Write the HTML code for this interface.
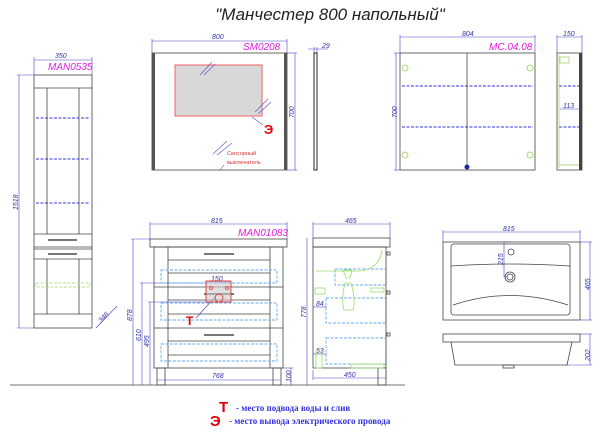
<!DOCTYPE html>
<html><head><meta charset="utf-8"><style>
html,body{margin:0;padding:0;background:#fff;}
svg{display:block;}
text{font-family:"Liberation Sans",sans-serif;}
text.serif{font-family:"Liberation Serif",serif;}
</style></head><body>
<svg width="600" height="433" viewBox="0 0 600 433" xmlns="http://www.w3.org/2000/svg">
<text x="330" y="20" font-size="17" font-style="italic" text-anchor="middle" fill="#222">"Манчестер 800 напольный"</text>

<g stroke="#4444cc" stroke-width="0.6" fill="none">
 <line x1="34" y1="60" x2="92" y2="60"/><line x1="34" y1="57" x2="34" y2="75"/><line x1="92" y1="57" x2="92" y2="75"/>
 <line x1="19" y1="75" x2="19" y2="328"/><line x1="17" y1="75" x2="34" y2="75"/><line x1="17" y1="328" x2="34" y2="328"/>
 <line x1="96" y1="328" x2="117" y2="306"/>
 <line x1="152" y1="41" x2="287" y2="41"/><line x1="152" y1="39" x2="152" y2="53"/><line x1="287" y1="39" x2="287" y2="53"/>
 <line x1="295" y1="53" x2="295" y2="170"/><line x1="287" y1="53" x2="297" y2="53"/><line x1="287" y1="170" x2="297" y2="170"/>
 <line x1="308" y1="49" x2="328" y2="49"/><line x1="314" y1="47" x2="314" y2="53"/><line x1="317" y1="47" x2="317" y2="53"/>
 <line x1="400" y1="37" x2="535" y2="37"/><line x1="400" y1="35" x2="400" y2="53"/><line x1="535" y1="35" x2="535" y2="53"/>
 <line x1="396" y1="53" x2="396" y2="170"/><line x1="394" y1="53" x2="400" y2="53"/><line x1="394" y1="170" x2="400" y2="170"/>
 <line x1="557" y1="37" x2="582" y2="37"/><line x1="557" y1="35" x2="557" y2="53"/><line x1="582" y1="35" x2="582" y2="53"/>
 <line x1="560" y1="109" x2="579" y2="109"/>
 <line x1="150" y1="224" x2="287" y2="224"/><line x1="150" y1="222" x2="150" y2="239"/><line x1="287" y1="222" x2="287" y2="239"/>
 <line x1="133" y1="239" x2="133" y2="385"/><line x1="131" y1="239" x2="150" y2="239"/>
 <line x1="142" y1="283" x2="142" y2="385"/><line x1="140" y1="283" x2="208" y2="283"/>
 <line x1="150" y1="302" x2="150" y2="385"/><line x1="148" y1="302" x2="208" y2="302"/>
 <line x1="157" y1="380" x2="281" y2="380"/>
 <line x1="291" y1="368" x2="291" y2="385"/><line x1="283" y1="368" x2="293" y2="368"/>
 <line x1="207" y1="282" x2="230" y2="282"/>
 <line x1="215" y1="297" x2="196" y2="318"/>
 <line x1="313" y1="224" x2="390" y2="224"/><line x1="313" y1="222" x2="313" y2="238"/><line x1="390" y1="222" x2="390" y2="238"/>
 <line x1="307" y1="238" x2="307" y2="385"/>
 <line x1="313" y1="378" x2="386" y2="378"/><line x1="313" y1="370" x2="313" y2="380"/><line x1="386" y1="370" x2="386" y2="380"/>
 <line x1="313" y1="307" x2="327" y2="307"/><line x1="313" y1="354" x2="327" y2="354"/>
 <line x1="443" y1="232" x2="580" y2="232"/><line x1="443" y1="230" x2="443" y2="242"/><line x1="580" y1="230" x2="580" y2="242"/>
 <line x1="590" y1="242" x2="590" y2="320"/><line x1="580" y1="242" x2="592" y2="242"/><line x1="580" y1="320" x2="592" y2="320"/>
 <line x1="590" y1="334" x2="590" y2="365"/><line x1="580" y1="334" x2="592" y2="334"/><line x1="565" y1="365" x2="592" y2="365"/>
 <polyline points="509,242 504,242 504,277 507,277"/>
</g>

<g font-size="7" fill="#3333aa" font-style="italic">
 <text x="55" y="58">350</text>
 <text x="0" y="0" transform="translate(18,210) rotate(-90)">1518</text>
 <text x="0" y="0" transform="translate(101,323) rotate(-45)">346</text>
 <text x="212" y="39">800</text>
 <text x="0" y="0" transform="translate(294,118) rotate(-90)">700</text>
 <text x="322" y="48">29</text>
 <text x="462" y="36">804</text>
 <text x="0" y="0" transform="translate(397,118) rotate(-90)">700</text>
 <text x="563" y="36">150</text>
 <text x="563" y="108">113</text>
 <text x="211" y="223">815</text>
 <text x="0" y="0" transform="translate(132,321) rotate(-90)">878</text>
 <text x="0" y="0" transform="translate(141,341) rotate(-90)">610</text>
 <text x="0" y="0" transform="translate(149,347) rotate(-90)">495</text>
 <text x="212" y="378">768</text>
 <text x="0" y="0" transform="translate(291,382) rotate(-90)">100</text>
 <text x="211" y="281">150</text>
 <text x="345" y="223">465</text>
 <text x="0" y="0" transform="translate(306,318) rotate(-90)">778</text>
 <text x="316" y="306">84</text>
 <text x="316" y="353">53</text>
 <text x="344" y="377">450</text>
 <text x="503" y="231">815</text>
 <text x="0" y="0" transform="translate(590,290) rotate(-90)">465</text>
 <text x="0" y="0" transform="translate(503,265) rotate(-90)">215</text>
 <text x="0" y="0" transform="translate(590,361) rotate(-90)">202</text>
</g>
<g font-size="10" fill="#e020e0" font-style="italic">
 <text x="48" y="70">MAN0535</text>
 <text x="243" y="50">SM0208</text>
 <text x="489" y="50">MC.04.08</text>
 <text x="238" y="236">MAN01083</text>
</g>

<g stroke="#444" stroke-width="0.8" fill="none">
 <rect x="34" y="75" width="58" height="253"/>
 <line x1="34" y1="88" x2="92" y2="88"/>
 <line x1="47" y1="88" x2="47" y2="234"/><line x1="79" y1="88" x2="79" y2="234"/>
 <line x1="34" y1="234" x2="92" y2="234"/><line x1="34" y1="247" x2="92" y2="247"/><line x1="34" y1="249" x2="92" y2="249"/>
 <line x1="47" y1="259" x2="47" y2="314"/><line x1="79" y1="259" x2="79" y2="314"/><line x1="34" y1="259" x2="92" y2="259"/>
 <line x1="34" y1="314" x2="92" y2="314"/>
</g>
<g stroke="#777" stroke-width="2"><line x1="48" y1="240" x2="77" y2="240"/><line x1="48" y1="254" x2="77" y2="254"/></g>
<g stroke="#3333dd" stroke-width="1" stroke-dasharray="3,1.5">
 <line x1="36" y1="118" x2="90" y2="118"/><line x1="36" y1="159" x2="90" y2="159"/><line x1="36" y1="203" x2="90" y2="203"/>
</g>
<rect x="36" y="283" width="54" height="4" fill="none" stroke="#99dd66" stroke-width="0.8" stroke-dasharray="3,1.5"/>

<rect x="152" y="53" width="135" height="117" fill="none" stroke="#444" stroke-width="0.8"/>
<rect x="152" y="53" width="3" height="117" fill="#555"/><rect x="284" y="53" width="3" height="117" fill="#555"/>
<rect x="175" y="65" width="87" height="51" fill="#d8d8d8" stroke="#f06060" stroke-width="1"/>
<g stroke="#5555cc" stroke-width="0.6">
 <line x1="200" y1="75" x2="212" y2="62"/><line x1="204" y1="75" x2="215" y2="64"/>
 <line x1="255" y1="112" x2="268" y2="99"/><line x1="258" y1="114" x2="271" y2="102"/>
 <line x1="213" y1="154" x2="227" y2="141"/><line x1="217" y1="155" x2="232" y2="143"/>
 <line x1="252" y1="117" x2="263" y2="125"/><line x1="220" y1="170" x2="224" y2="165"/>
</g>
<text x="264" y="134" font-size="13" font-weight="bold" fill="#e00000">Э</text>
<text x="227" y="155" font-size="5.5" fill="#e03030">Сенсорный</text>
<text x="227" y="164" font-size="5.5" fill="#e03030">выключатель</text>
<rect x="314" y="53" width="3" height="117" fill="none" stroke="#222" stroke-width="1"/>

<rect x="400" y="53" width="135" height="117" fill="none" stroke="#444" stroke-width="0.8"/>
<line x1="467" y1="53" x2="467" y2="170" stroke="#444" stroke-width="0.8"/>
<g stroke="#3333dd" stroke-width="1" stroke-dasharray="3,1.5">
 <line x1="402" y1="86" x2="533" y2="86"/><line x1="402" y1="127" x2="533" y2="127"/>
 <line x1="559" y1="86" x2="579" y2="86"/><line x1="559" y1="127" x2="579" y2="127"/>
</g>
<g fill="none" stroke="#99cc55" stroke-width="0.8">
 <circle cx="405" cy="68" r="3"/><circle cx="530" cy="68" r="3"/><circle cx="405" cy="155" r="3"/><circle cx="530" cy="155" r="3"/>
</g>
<circle cx="467" cy="167" r="2.5" fill="#2222aa"/>
<rect x="557" y="53" width="25" height="117" fill="none" stroke="#444" stroke-width="0.8"/>
<rect x="579" y="53" width="3" height="117" fill="#444"/>
<g fill="none" stroke="#99cc55" stroke-width="0.7"><rect x="560" y="57" width="9" height="6"/><line x1="559" y1="55" x2="559" y2="168"/><line x1="559" y1="165" x2="579" y2="165"/></g>

<g stroke="#444" stroke-width="0.8" fill="none">
 <rect x="150" y="239" width="137" height="8"/>
 <rect x="154" y="247" width="129" height="121"/>
 <line x1="168" y1="247" x2="168" y2="368"/><line x1="270" y1="247" x2="270" y2="368"/>
 <line x1="168" y1="260" x2="270" y2="260"/><line x1="168" y1="273" x2="270" y2="273"/>
 <line x1="154" y1="287" x2="283" y2="287"/><line x1="168" y1="300" x2="270" y2="300"/>
 <line x1="168" y1="314" x2="270" y2="314"/><line x1="154" y1="328" x2="283" y2="328"/>
 <line x1="168" y1="341" x2="270" y2="341"/><line x1="168" y1="355" x2="270" y2="355"/>
 <rect x="157" y="368" width="8" height="17"/><rect x="273" y="368" width="8" height="17"/>
</g>
<line x1="10" y1="385" x2="405" y2="385" stroke="#444" stroke-width="0.8"/>
<g stroke="#777" stroke-width="2"><line x1="204" y1="254" x2="234" y2="254"/><line x1="204" y1="294" x2="234" y2="294"/><line x1="204" y1="335" x2="234" y2="335"/></g>
<g fill="none" stroke="#66aaee" stroke-width="0.9" stroke-dasharray="3,1.5">
 <rect x="161" y="270" width="116" height="13"/><rect x="161" y="303" width="116" height="17"/><rect x="161" y="344" width="116" height="17"/>
 <rect x="335" y="269" width="51" height="16"/><rect x="326" y="298" width="60" height="25"/><rect x="326" y="338" width="60" height="26"/>
</g>
<rect x="206" y="281" width="25" height="21" fill="#cccccc" fill-opacity="0.6" stroke="#e03030" stroke-width="0.9"/>
<g fill="none" stroke="#e03030" stroke-width="0.8"><circle cx="211" cy="288" r="1.5"/><circle cx="227" cy="288" r="1.5"/><circle cx="219" cy="298" r="4"/></g>
<text x="186" y="325" font-size="12" font-weight="bold" fill="#e00000">Т</text>

<g stroke="#444" stroke-width="0.8" fill="none">
 <rect x="313" y="238" width="77" height="9"/>
 <rect x="313" y="247" width="73" height="121"/>
 <rect x="378" y="368" width="8" height="17"/>
 <rect x="387" y="252" width="3" height="3"/><rect x="387" y="291" width="3" height="3"/><rect x="387" y="333" width="3" height="3"/>
</g>
<g fill="none" stroke="#99dd66" stroke-width="0.8">
 <path d="M382,250 Q380,268 360,271 L316,271"/>
 <path d="M343,270 L352,270 L350,278 L346,278 Z"/><path d="M345,283 Q341,300 344,310 L353,310 Q356,300 351,283 Z"/>
 <rect x="315" y="288" width="10" height="6"/><rect x="371" y="288" width="13" height="4"/>
 <rect x="316" y="352" width="6" height="16"/><rect x="351" y="364" width="33" height="4"/>
</g>

<g stroke="#444" stroke-width="0.8" fill="none">
 <rect x="443" y="242" width="137" height="78"/>
 <rect x="451" y="244" width="119" height="71" rx="3"/>
 <path d="M451,266 Q510,262 570,266"/>
 <path d="M453,305 Q510,286 568,305"/>
 <circle cx="511" cy="252" r="3"/><circle cx="510" cy="277" r="5"/><circle cx="510" cy="277" r="3"/>
 <rect x="443" y="334" width="137" height="8"/>
 <path d="M451,342 L455,365 L567,365 L572,342"/>
 <rect x="503" y="365" width="11" height="3"/>
</g>

<text x="219" y="412" font-size="15" font-weight="bold" fill="#e00000">Т</text>
<text class="serif" x="236" y="411" font-size="9" font-weight="bold" fill="#3333dd">- место подвода воды и слив</text>
<text x="210" y="426" font-size="15" font-weight="bold" fill="#e00000">Э</text>
<text class="serif" x="229" y="424" font-size="9" font-weight="bold" fill="#3333dd">- место вывода электрического провода</text>
</svg>
</body></html>
